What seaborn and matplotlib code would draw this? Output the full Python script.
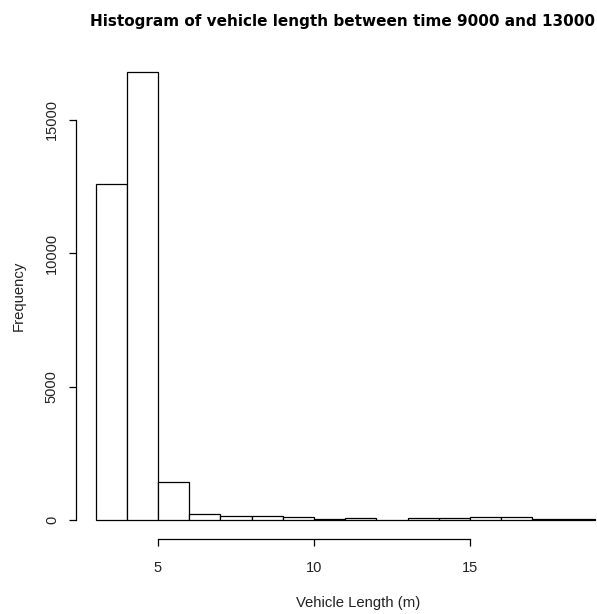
import matplotlib
matplotlib.use("Agg")
import matplotlib.pyplot as plt
import seaborn as sns
import numpy as np

# Data
bin_edges = list(range(3, 20))  # 3..19
counts = [12600, 16800, 1420, 215, 140, 140, 100, 25, 60, 0, 60, 60, 100, 100, 25, 25]
x_ticks = [5, 10, 15]
y_ticks = [0, 5000, 10000, 15000]
title = "Histogram of vehicle length between time 9000 and 13000"
xlabel = "Vehicle Length (m)"
ylabel = "Frequency"

sns.set_style("white")
plt.rcParams['font.family'] = ['Liberation Sans', 'DejaVu Sans']

W, H = 597, 614
fig = plt.figure(figsize=(W / 100, H / 100), dpi=100)
# axes in pixel coordinates (overflows right edge, as in the reference)
left_px, right_px = 75.6, 614.8
top_px, bottom_px = 54.0, 538.0
ax = fig.add_axes([left_px / W, (H - bottom_px) / H,
                   (right_px - left_px) / W, (bottom_px - top_px) / H])

centers = [(bin_edges[i] + bin_edges[i + 1]) / 2 for i in range(len(counts))]
sns.histplot(x=centers, weights=counts, bins=bin_edges, ax=ax,
             color="white", edgecolor="black", linewidth=0.9, alpha=1)

xr = bin_edges[-1] - bin_edges[0]
ax.set_xlim(bin_edges[0] - 0.04 * xr, bin_edges[-1] + 0.04 * xr)
ymax = max(counts)
ax.set_ylim(-0.04 * ymax, ymax * 1.04)

for s in ["top", "right"]:
    ax.spines[s].set_visible(False)
ax.spines["bottom"].set_bounds(x_ticks[0], x_ticks[-1])
ax.spines["left"].set_bounds(y_ticks[0], y_ticks[-1])
for s in ["bottom", "left"]:
    ax.spines[s].set_color("black")
    ax.spines[s].set_linewidth(0.9)
ax.spines["bottom"].set_position(("outward", 1))

ax.set_xticks(x_ticks)
ax.set_yticks(y_ticks)
ax.set_xticklabels([str(t) for t in x_ticks])
ax.set_yticklabels([str(t) for t in y_ticks], rotation=90, va="center")
ax.tick_params(axis="both", direction="out", length=5.2, width=0.9,
               color="black", labelsize=10.5, labelcolor="#222222",
               bottom=True, left=True)
ax.tick_params(axis="x", pad=10.2)
ax.tick_params(axis="y", pad=6.8)

ax.set_xlabel(xlabel, fontsize=10.7, color="#222222")
ax.set_ylabel(ylabel, fontsize=10.7, color="#222222")
ax.xaxis.label.set_va("baseline")
ax.yaxis.label.set_va("baseline")
ax.xaxis.set_label_coords((358 - left_px) / (right_px - left_px),
                          (bottom_px - 606.5) / (bottom_px - top_px))
ax.yaxis.set_label_coords((22.3 - left_px) / (right_px - left_px), 0.5)

fig.text(343 / W, 1 - 26 / H, title, ha="center", va="baseline",
         fontsize=11, fontweight="bold", color="black", family="DejaVu Sans")

fig.savefig("out.png", dpi=100)
